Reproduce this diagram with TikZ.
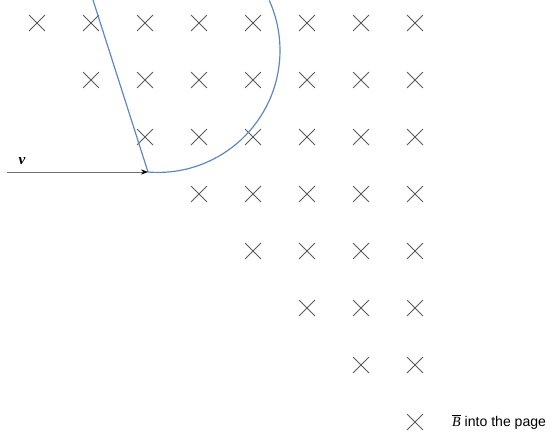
\documentclass[tikz,border=0pt]{standalone}
\usepackage{fontspec}
\setmainfont{Liberation Sans}
\newfontfamily\timesfont{Liberation Serif}
\usetikzlibrary{shapes.misc,arrows.meta}
\definecolor{fieldgray}{HTML}{5A5A5A}
\definecolor{pathblue}{HTML}{5A86C2}
\definecolor{arrowgray}{HTML}{6E6E6E}

\begin{document}
\begin{tikzpicture}[
  x=0.03cm,
  y=0.03cm,
  every node/.style={font=\fontsize{12pt}{14pt}\selectfont},
  >={Stealth[length=6pt,width=4.5pt,black]},
  bfield/.style={draw=fieldgray, cross out, line width=0.75pt,
                 minimum size=0.45cm, inner sep=0pt}
]
  \useasboundingbox (0,0) rectangle (556,-439);

  % ---- magnetic field, staircase of crosses ------------------------------
  \foreach \r in {0,...,7} {
    \foreach \c in {\r,...,7} {
      \node[bfield] (b-\r-\c) at ({37+54*\c},{-23-57*\r}) {};
    }
  }

  \node[anchor=west, inner sep=0pt] (legend) at (452,-422)
    {$\overline{\mbox{\timesfont\itshape B}}$ into the page};

  % ---- circular path in the field ----------------------------------------
  \coordinate (start) at (7,-172);
  \coordinate (entry) at (148,-172);
  \coordinate (chordtop) at (93,0);

  \draw[pathblue, line width=1pt] (chordtop) -- (entry)
    arc[start angle=265.3, end angle=384.2, radius=122];

  % ---- incoming charge and its velocity ----------------------------------
  \draw[arrowgray, line width=0.7pt, ->] (start) -- (entry);
  \node[inner sep=0pt] (vel) at (22,-161)
    {\fontsize{13pt}{15pt}\selectfont\timesfont\bfseries\itshape v};
\end{tikzpicture}
\end{document}
